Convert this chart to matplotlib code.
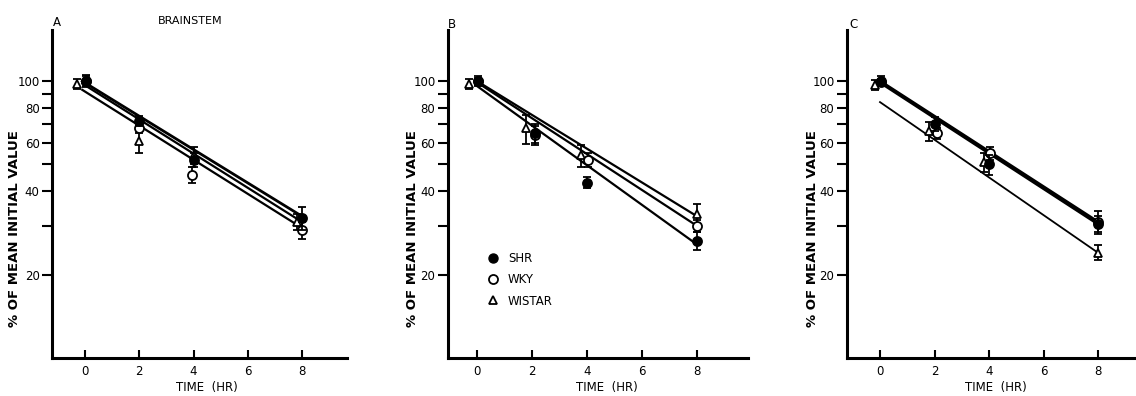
import matplotlib
matplotlib.use("Agg")
import matplotlib.pyplot as plt
from matplotlib.ticker import FixedLocator, NullFormatter, FixedFormatter
from matplotlib.lines import Line2D

plt.rcParams['font.family'] = ['DejaVu Sans']

W, H = 1136, 396

# ---------------- data ----------------
panel_labels = ["A", "B", "C"]
panel_title_A = "BRAINSTEM"
series_names = ["SHR", "WKY", "WISTAR"]

xticks = [0, 2, 4, 6, 8]
yticks_major = [20, 40, 60, 80, 100]
yticks_minor = [30, 50, 70, 90]

# Panel A
a_shr_x = [0.05, 2, 4, 8]
a_shr_y = [100, 72, 52, 32]
a_shr_e = [5, 3, 3, 3]
a_wky_x = [0.05, 2, 3.95, 8]
a_wky_y = [100, 68, 46, 29]
a_wky_e = [4, 3, 3, 2]
a_wis_x = [-0.3, 2, 4, 7.8]
a_wis_y = [98, 61, 54, 31]
a_wis_e = [4, 6, 4, 2]
a_fit_x = [[-0.1, 8], [-0.1, 8], [-0.1, 8]]
a_fit_y = [[100, 32.5], [98, 31], [93, 29.5]]

# Panel B
b_shr_x = [0.05, 2.1, 4, 8]
b_shr_y = [100, 65, 43, 26.5]
b_shr_e = [4, 5, 2, 2]
b_wky_x = [0.05, 2.1, 4.05, 8]
b_wky_y = [100, 64, 52, 30]
b_wky_e = [3, 5, 3, 1.5]
b_wis_x = [-0.3, 1.8, 3.8, 8]
b_wis_y = [98, 67.5, 54, 33]
b_wis_e = [4, 8, 5, 3]
b_fit_x = [[0, 8], [0, 8], [0, 8]]
b_fit_y = [[100, 32.5], [99, 30], [96, 25.7]]

# Panel C
c_shr_x = [0.05, 2, 4, 8]
c_shr_y = [100, 70, 50, 30.5]
c_shr_e = [4, 4, 4, 2]
c_wky_x = [0.05, 2.1, 4.05, 8]
c_wky_y = [99, 65, 55, 31]
c_wky_e = [3, 3, 3, 3]
c_wis_x = [-0.2, 1.8, 3.8, 8]
c_wis_y = [97, 66, 51, 24]
c_wis_e = [4, 5, 4, 1.5]
c_fit_x = [[0, 8], [0, 8], [0, 8]]
c_fit_y = [[100, 31], [99, 30.5], [84, 24]]

panels = [
    dict(shr=(a_shr_x, a_shr_y, a_shr_e), wky=(a_wky_x, a_wky_y, a_wky_e),
         wis=(a_wis_x, a_wis_y, a_wis_e), fx=a_fit_x, fy=a_fit_y,
         fw=[2.0, 1.6, 1.6]),
    dict(shr=(b_shr_x, b_shr_y, b_shr_e), wky=(b_wky_x, b_wky_y, b_wky_e),
         wis=(b_wis_x, b_wis_y, b_wis_e), fx=b_fit_x, fy=b_fit_y,
         fw=[1.6, 1.6, 1.6]),
    dict(shr=(c_shr_x, c_shr_y, c_shr_e), wky=(c_wky_x, c_wky_y, c_wky_e),
         wis=(c_wis_x, c_wis_y, c_wis_e), fx=c_fit_x, fy=c_fit_y,
         fw=[2.2, 2.2, 1.3]),
]

# ---------------- layout (pixel geometry) ----------------
# (axis left px, x=0 px, x=8 px, axis right px)
geom = [(52, 85, 302, 347), (448, 477, 697, 748), (847, 880, 1098, 1136)]
top_px, bottom_px = 30, 358
ylo, yhi = 10, 153

fig = plt.figure(figsize=(W / 100, H / 100), dpi=100)
fig.patch.set_facecolor("white")

ylabel_x = [15, 412, 813]
xlabel_x = [207, 607, 996]
letter_pos = [(57, 23), (452, 24), (853, 25)]

for i, p in enumerate(panels):
    l, x0, x8, r = geom[i]
    per = (x8 - x0) / 8.0
    ax = fig.add_axes([l / W, 1 - bottom_px / H, (r - l) / W, (bottom_px - top_px) / H])
    ax.set_xlim((l - x0) / per, (r - x0) / per)
    ax.set_yscale("log")
    ax.set_ylim(ylo, yhi)

    for s in ["top", "right"]:
        ax.spines[s].set_visible(False)
    for s in ["left", "bottom"]:
        ax.spines[s].set_linewidth(2.2)

    ax.yaxis.set_major_locator(FixedLocator(yticks_major))
    ax.yaxis.set_major_formatter(FixedFormatter([str(v) for v in yticks_major]))
    ax.yaxis.set_minor_locator(FixedLocator(yticks_minor))
    ax.yaxis.set_minor_formatter(NullFormatter())
    ax.tick_params(axis="y", which="both", direction="out", length=7, width=1.5,
                   labelsize=8.5, pad=2)
    ax.set_xticks(xticks)
    ax.tick_params(axis="x", direction="in", length=6, width=1.5, labelsize=8.5, pad=5)

    # regression lines
    for fx, fy, lw in zip(p["fx"], p["fy"], p["fw"]):
        ax.plot(fx, fy, color="black", lw=lw, zorder=2)

    # data points
    x, y, e = p["wis"]
    ax.errorbar(x, y, yerr=e, fmt="^", ms=6, mfc="white", mec="black", mew=1.3,
                ecolor="black", elinewidth=1.3, capsize=3, capthick=1.3, zorder=3)
    x, y, e = p["wky"]
    ax.errorbar(x, y, yerr=e, fmt="o", ms=6.5, mfc="white", mec="black", mew=1.3,
                ecolor="black", elinewidth=1.3, capsize=3, capthick=1.3, zorder=4)
    x, y, e = p["shr"]
    ax.errorbar(x, y, yerr=e, fmt="o", ms=6.5, mfc="black", mec="black", mew=1.3,
                ecolor="black", elinewidth=1.3, capsize=3, capthick=1.3, zorder=5)

    fig.text(ylabel_x[i] / W, 1 - 229 / H, "% OF MEAN INITIAL VALUE", rotation=90,
             ha="center", va="center", fontsize=9.5, fontweight="bold")
    fig.text(xlabel_x[i] / W, 1 - 388 / H, "TIME  (HR)", ha="center", va="center",
             fontsize=8.5)
    lx, ly = letter_pos[i]
    fig.text(lx / W, 1 - ly / H, panel_labels[i], ha="center", va="center", fontsize=8.5)

    if i == 1:
        handles = [
            Line2D([], [], ls="none", marker="o", ms=6.5, mfc="black", mec="black"),
            Line2D([], [], ls="none", marker="o", ms=6.5, mfc="white", mec="black", mew=1.3),
            Line2D([], [], ls="none", marker="^", ms=6, mfc="white", mec="black", mew=1.3),
        ]
        ax.legend(handles, series_names, frameon=False, loc="upper left",
                  bbox_to_anchor=(488 / W, 1 - 252 / H), bbox_transform=fig.transFigure,
                  handlelength=0.8, handletextpad=0.9, labelspacing=0.7,
                  fontsize=8.5, borderaxespad=0, borderpad=0)

fig.text(190 / W, 1 - 21 / H, panel_title_A, ha="center", va="center", fontsize=8)

fig.savefig("out.png", dpi=100, facecolor="white")
